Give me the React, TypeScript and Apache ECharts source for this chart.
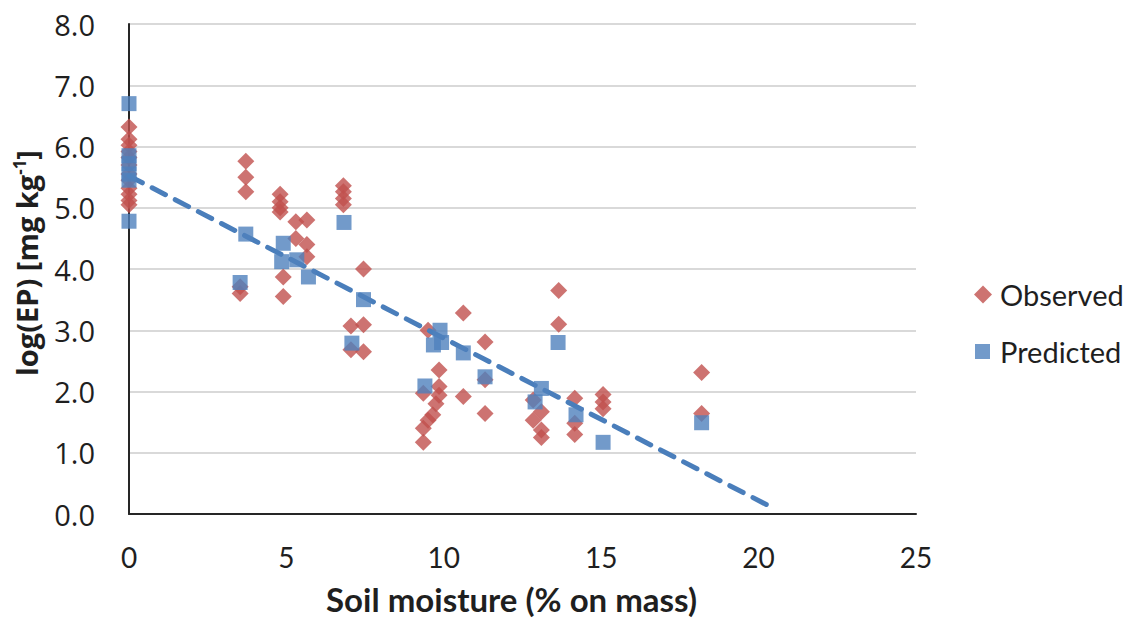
import React, { useEffect, useRef } from "react";
import * as echarts from "echarts";

const observedX = [
  0, 0, 0, 0, 0, 0, 0, 0, 0, 0, 0, 0,
  3.53, 3.53, 3.71, 3.71, 3.71,
  4.8, 4.8, 4.8, 4.8, 4.9, 4.9,
  5.3, 5.3, 5.65, 5.65, 5.65,
  6.81, 6.81, 6.81, 6.81,
  7.05, 7.05, 7.45, 7.45, 7.45,
  9.35, 9.35, 9.35, 9.5, 9.5, 9.65, 9.75, 9.85, 9.85, 9.85,
  10.62, 10.62, 11.31, 11.31, 11.31,
  12.84, 12.84, 13.1, 13.1, 13.1, 13.65, 13.65,
  14.16, 14.16, 14.16, 15.06, 15.06, 15.06,
  18.19, 18.19,
];
const observedY = [
  6.32, 6.12, 6.02, 5.92, 5.82, 5.7, 5.55, 5.45, 5.32, 5.22, 5.12, 5.05,
  3.71, 3.6, 5.76, 5.5, 5.26,
  5.22, 5.1, 5.0, 4.93, 3.87, 3.55,
  4.77, 4.5, 4.8, 4.4, 4.2,
  5.36, 5.26, 5.15, 5.05,
  3.07, 2.68, 4.0, 3.09, 2.65,
  1.97, 1.17, 1.4, 3.0, 1.53, 1.62, 1.8, 2.35, 2.08, 1.94,
  3.28, 1.92, 2.81, 2.19, 1.64,
  1.86, 1.53, 1.67, 1.37, 1.25, 3.65, 3.1,
  1.89, 1.48, 1.3, 1.95, 1.83, 1.72,
  2.31, 1.64,
];

const predictedX = [
  0, 0, 0, 0, 0, 0,
  3.53, 3.71, 4.85, 4.9, 5.33, 5.7, 6.83, 7.08, 7.45,
  9.4, 9.67, 9.88, 9.93, 10.62, 11.31,
  12.9, 13.1, 13.63, 14.2, 15.06, 18.19,
];
const predictedY = [
  6.7, 5.85, 5.72, 5.55, 5.45, 4.78,
  3.78, 4.57, 4.12, 4.42, 4.15, 3.87, 4.76, 2.79, 3.5,
  2.09, 2.76, 3.0, 2.8, 2.63, 2.24,
  1.83, 2.05, 2.8, 1.62, 1.17, 1.49,
];

const trendX = [0, 20.3];
const trendY = [5.52, 0.14];

const xTicks = [0, 5, 10, 15, 20, 25];
const yTicks = [0, 1, 2, 3, 4, 5, 6, 7, 8];

const RED = "#C0504D";
const BLUE = "#4F81BD";
const TEXT = "#1f1f1f";

export default function App() {
  const ref = useRef<HTMLDivElement>(null);
  useEffect(() => {
    if (!ref.current) return;
    const chart = echarts.init(ref.current, null, { renderer: "svg" });
    const zip = (xs: number[], ys: number[]) => xs.map((x, i) => [x, ys[i]]);
    const legendText = { fontFamily: "Lato", fontSize: 29, color: TEXT };
    chart.setOption({
      animation: false,
      backgroundColor: "#ffffff",
      grid: { left: 129, right: 218, top: 24, bottom: 107 },
      legend: [
        {
          orient: "vertical",
          left: 969,
          top: 275,
          itemWidth: 18,
          itemHeight: 18,
          textStyle: { ...legendText, padding: [0, 0, 0, 3] },
          data: [{ name: "Observed", icon: "diamond" }],
        },
        {
          orient: "vertical",
          left: 970,
          top: 332,
          itemWidth: 15,
          itemHeight: 15,
          textStyle: { ...legendText, padding: [0, 0, 0, 5] },
          data: [{ name: "Predicted", icon: "rect" }],
        },
      ],
      xAxis: {
        type: "value",
        min: xTicks[0],
        max: xTicks[xTicks.length - 1],
        interval: 5,
        name: "Soil moisture (% on mass)",
        nameLocation: "middle",
        nameGap: 68,
        nameTextStyle: {
          fontFamily: "Lato",
          fontWeight: "bold",
          fontSize: 33,
          color: TEXT,
          padding: [0, 22, 0, 0],
        },
        axisLine: { show: true, lineStyle: { color: "#262626", width: 2 } },
        axisTick: { show: false },
        splitLine: { show: false },
        axisLabel: { margin: 29, fontFamily: "Lato", fontSize: 28, color: TEXT },
      },
      yAxis: {
        type: "value",
        min: yTicks[0],
        max: yTicks[yTicks.length - 1],
        interval: 1,
        name: "log(EP) [mg kg{sup|-1}]",
        nameLocation: "middle",
        nameGap: 87,
        nameRotate: 90,
        nameTextStyle: {
          fontFamily: "Open Sans",
          fontWeight: "bold",
          fontSize: 29,
          color: TEXT,
          padding: [0, 0, 0, 12],
          rich: {
            sup: {
              fontFamily: "Open Sans",
              fontWeight: "bold",
              fontSize: 17,
              color: TEXT,
              padding: [0, 0, 14, 0],
            },
          },
        },
        axisLine: { show: true, lineStyle: { color: "#262626", width: 2 } },
        axisTick: { show: false },
        splitLine: { show: true, lineStyle: { color: "#D9D9D9", width: 2 } },
        axisLabel: {
          margin: 34,
          fontFamily: "Open Sans",
          fontSize: 29,
          color: TEXT,
          formatter: (v: number) => v.toFixed(1),
        },
      },
      series: [
        {
          name: "Observed",
          type: "scatter",
          symbol: "diamond",
          symbolSize: 17,
          itemStyle: { color: RED },
          data: zip(observedX, observedY),
          z: 2,
        },
        {
          name: "Trend",
          type: "line",
          data: zip(trendX, trendY),
          showSymbol: false,
          symbol: "none",
          lineStyle: { color: "#4A7EBB", width: 5, type: [15, 11], cap: "round" },
          z: 3,
          silent: true,
        },
        {
          name: "Predicted",
          type: "scatter",
          symbol: "rect",
          symbolSize: 15,
          itemStyle: { color: BLUE },
          data: zip(predictedX, predictedY),
          z: 4,
        },
      ],
    });
    return () => chart.dispose();
  }, []);
  return (
    <div
      ref={ref}
      style={{ position: "fixed", left: 0, top: 0, width: 1134, height: 621, background: "#fff" }}
    />
  );
}
